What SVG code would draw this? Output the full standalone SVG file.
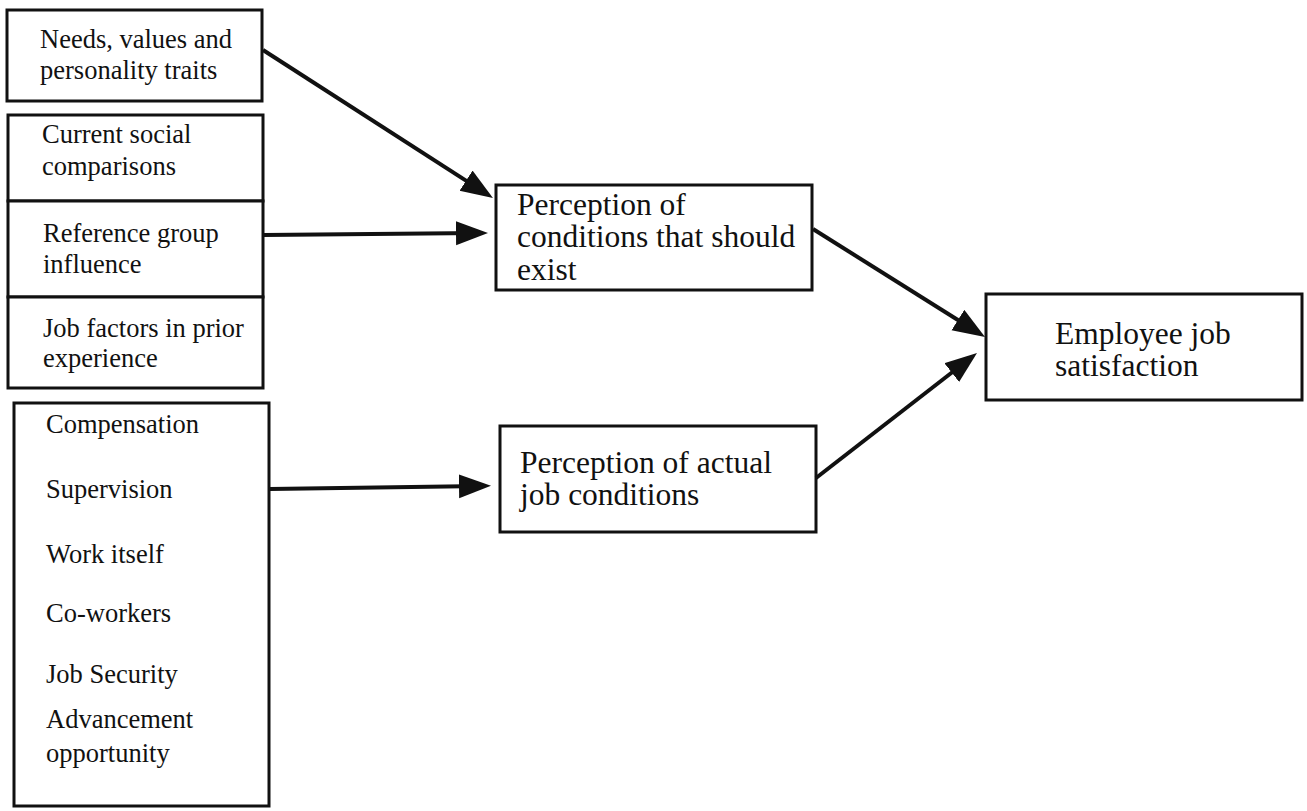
<svg xmlns="http://www.w3.org/2000/svg" width="1307" height="811" viewBox="0 0 1307 811">
<style>
.box{fill:#fff;stroke:#111;stroke-width:3}
.t{font-family:"Liberation Serif","Times New Roman",serif;fill:#111;font-size:26.5px}
.tl{font-family:"Liberation Serif","Times New Roman",serif;fill:#111;font-size:31.5px}
.c{fill:none;stroke:#111;stroke-width:4}
</style>
<defs>
<marker id="ah" markerUnits="userSpaceOnUse" markerWidth="34" markerHeight="26" refX="23" refY="12" orient="auto">
<path d="M0,0 L32,12 L0,24 z" fill="#111"/>
</marker>
</defs>
<rect width="1307" height="811" fill="#fff"/>
<g id="needs">
<rect class="box" x="7" y="10" width="255" height="91"/>
<text class="t" x="40" y="48">Needs, values and</text>
<text class="t" x="40" y="79">personality traits</text>
</g>
<g id="current">
<rect class="box" x="8" y="115" width="255" height="86"/>
<text class="t" x="42" y="143">Current social</text>
<text class="t" x="42" y="175">comparisons</text>
</g>
<g id="reference">
<rect class="box" x="8" y="201" width="255" height="96"/>
<text class="t" x="43" y="242">Reference group</text>
<text class="t" x="43" y="273">influence</text>
</g>
<g id="jobfactors">
<rect class="box" x="8" y="297" width="255" height="91"/>
<text class="t" x="43" y="337">Job factors in prior</text>
<text class="t" x="43" y="367">experience</text>
</g>
<g id="conditions">
<rect class="box" x="14" y="403" width="255" height="403"/>
<text class="t" x="46" y="433">Compensation</text>
<text class="t" x="46" y="498">Supervision</text>
<text class="t" x="46" y="563">Work itself</text>
<text class="t" x="46" y="622">Co-workers</text>
<text class="t" x="46" y="683">Job Security</text>
<text class="t" x="46" y="728">Advancement</text>
<text class="t" x="46" y="762">opportunity</text>
</g>
<g id="should">
<rect class="box" x="496" y="185" width="316" height="105"/>
<text class="tl" x="517" y="215">Perception of</text>
<text class="tl" x="517" y="247">conditions that should</text>
<text class="tl" x="517" y="280">exist</text>
</g>
<g id="actual">
<rect class="box" x="500" y="426" width="316" height="106"/>
<text class="tl" x="520" y="473">Perception of actual</text>
<text class="tl" x="520" y="505">job conditions</text>
</g>
<g id="satisfaction">
<rect class="box" x="986" y="294" width="316" height="106"/>
<text class="tl" x="1055" y="344">Employee job</text>
<text class="tl" x="1055" y="376">satisfaction</text>
</g>
<g id="connectors">
<line class="c" x1="263" y1="50" x2="485.4" y2="193.1" marker-end="url(#ah)"/>
<line class="c" x1="264" y1="235" x2="479" y2="233" marker-end="url(#ah)"/>
<line class="c" x1="270" y1="489" x2="482" y2="486" marker-end="url(#ah)"/>
<line class="c" x1="813" y1="229" x2="977.4" y2="332.2" marker-end="url(#ah)"/>
<line class="c" x1="816" y1="478" x2="969.9" y2="358.5" marker-end="url(#ah)"/>
</g>
</svg>
